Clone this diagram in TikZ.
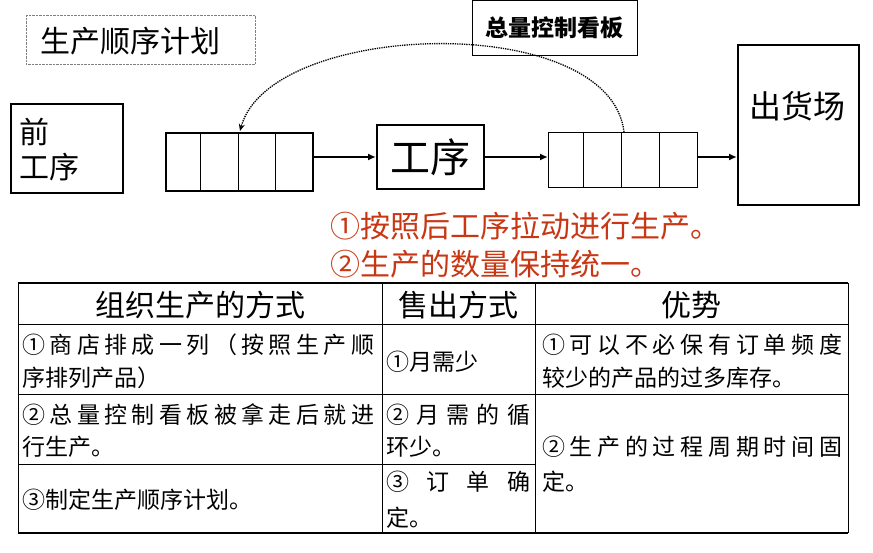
\documentclass[tikz,border=0pt]{standalone}
\usepackage{fontspec}
\setmainfont{Noto Sans CJK SC}
\usetikzlibrary{arrows.meta}
\definecolor{redt}{RGB}{200,55,20}
\tikzset{
 bx/.style={draw,line width=1.2pt},
 tbx/.style={draw,line width=2.2pt},
 arr/.style={-{Latex[length=8pt,width=7pt]},line width=2pt},
 tl/.style={anchor=west,inner sep=0pt,font=\fontsize{23}{23}\selectfont},
 hd/.style={inner sep=0pt,font=\fontsize{30}{30}\selectfont},
}
\begin{document}
\begin{tikzpicture}[x=1pt,y=-1pt]
\useasboundingbox (0,0) rectangle (873,553);
% title
\node[draw,densely dotted,gray,minimum width=229pt,minimum height=49pt,anchor=north west] (title) at (26,15) {};
\node[inner sep=0pt,font=\fontsize{30}{30}\selectfont] (tt) at (130,41) {生产顺序计划};
% kanban label
\node[draw,line width=0.8pt,minimum width=165pt,minimum height=55pt,anchor=north west,font=\bfseries\fontsize{23}{23}\selectfont] (kb) at (472,0) {总量控制看板};
% prior process
\node[tbx,minimum width=112pt,minimum height=89pt,anchor=north west] (pre) at (10,103) {};
\node[anchor=west,inner sep=0pt,font=\fontsize{30}{30}\selectfont] (pre1) at (19,132) {前};
\node[anchor=west,inner sep=0pt,font=\fontsize{30}{30}\selectfont] (pre2) at (19,167) {工序};
% left buffer
\node[tbx,line width=1.6pt,minimum width=147pt,minimum height=58pt,anchor=north west] (lb) at (165,132) {};
\foreach \x in {200,238,275} \draw[line width=1pt] (\x,132) -- (\x,190);
% process
\node[tbx,minimum width=107pt,minimum height=64pt,anchor=north west,font=\fontsize{40}{40}\selectfont] (pr) at (376,124) {工序};
% right buffer
\node[draw,line width=1.4pt,minimum width=149pt,minimum height=55pt,anchor=north west] (rb) at (548,132) {};
\foreach \x in {583,621,659} \draw[line width=1pt] (\x,132) -- (\x,187);
% shipping
\node[tbx,minimum width=121pt,minimum height=160pt,anchor=north west] (sh) at (737,44) {};
\node[inner sep=0pt,font=\fontsize{32}{32}\selectfont] (sht) at (797,106) {出货场};
% arrows
\coordinate (ay) at (0,157);
\draw[arr] (lb.east |- ay) -- (pr.west |- ay);
\draw[arr] (pr.east |- ay) -- (rb.west |- ay);
\draw[arr] (rb.east |- ay) -- (sh.west |- ay);
\coordinate (cs) at (624,132);
\coordinate (ce) at (240,131);
\draw[densely dotted,line width=1.3pt,-{Stealth[length=7pt,width=6pt]}] (cs) .. controls (610,10) and (270,20) .. (ce);
% red text
\node[anchor=west,inner sep=0pt,text=redt,font=\fontsize{30}{30}\selectfont] (r1) at (330,226) {①按照后工序拉动进行生产。};
\node[anchor=west,inner sep=0pt,text=redt,font=\fontsize{30}{30}\selectfont] (r2) at (330,264) {②生产的数量保持统一。};
% table
\draw[line width=1.6pt] (18,283) -- (848,283);
\draw[line width=1.6pt] (18,533) -- (848,533);
\draw[line width=1pt] (18,283) -- (18,533) (848,283) -- (848,533) (382,283) -- (382,533) (535,283) -- (535,533);
\draw[line width=1pt] (18,325) -- (848,325) (18,394) -- (848,394) (18,464) -- (535,464);
\node[hd] (h1) at (200,305) {组织生产的方式};
\node[hd] (h2) at (458,305) {售出方式};
\node[hd] (h3) at (691,305) {优势};
\node[tl] (a1) at (22,345) {\makebox[352pt][l]{①\hfill 商\hfill 店\hfill 排\hfill 成\hfill 一\hfill 列\hfill （\hfill 按\hfill 照\hfill 生\hfill 产\hfill 顺}};
\node[tl] (a2) at (22,378) {序排列产品）};
\node[tl] (a3) at (22,415) {\makebox[352pt][l]{②\hfill 总\hfill 量\hfill 控\hfill 制\hfill 看\hfill 板\hfill 被\hfill 拿\hfill 走\hfill 后\hfill 就\hfill 进}};
\node[tl] (a4) at (22,447) {行生产。};
\node[tl] (a5) at (22,500) {③制定生产顺序计划。};
\node[tl] (b1) at (386,362) {①月需少};
\node[tl] (b2) at (386,415) {\makebox[144pt][l]{②\hfill 月\hfill 需\hfill 的\hfill 循}};
\node[tl] (b3) at (386,447) {环少。};
\node[tl] (b4) at (386,482) {\makebox[144pt][l]{③\hfill 订\hfill 单\hfill 确}};
\node[tl] (b5) at (386,518) {定。};
\node[tl] (c1) at (542,345) {\makebox[300pt][l]{①\hfill 可\hfill 以\hfill 不\hfill 必\hfill 保\hfill 有\hfill 订\hfill 单\hfill 频\hfill 度}};
\node[tl] (c2) at (542,378) {较少的产品的过多库存。};
\node[tl] (c3) at (542,447) {\makebox[300pt][l]{②\hfill 生\hfill 产\hfill 的\hfill 过\hfill 程\hfill 周\hfill 期\hfill 时\hfill 间\hfill 固}};
\node[tl] (c4) at (542,482) {定。};
\end{tikzpicture}
\end{document}
